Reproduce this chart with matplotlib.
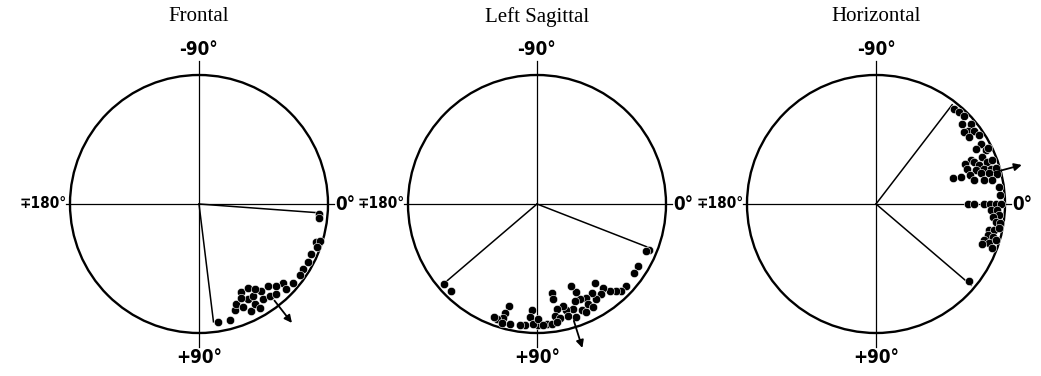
import numpy as np
import matplotlib.pyplot as plt
from matplotlib.patches import Circle

# angles in degrees (+90 points down), radius as fraction of the rim
frontal_angle = [80.8, 75.1, 71.5, 69.5, 64.4, 59.7, 67.0, 62.8, 63.9, 61.0,
                 59.6, 54.4, 56.2, 59.7, 50.0, 52.5, 49.5, 43.2, 44.4, 40.0,
                 32.3, 24.3, 18.0, 17.0, 20.0, 28.0, 35.0, 5.0, 6.5, 66.0,
                 57.0, 47.0]
frontal_r = [0.925, 0.93, 0.87, 0.83, 0.76, 0.75, 0.87, 0.83, 0.92, 0.89,
             0.83, 0.83, 0.89, 0.93, 0.83, 0.90, 0.92, 0.89, 0.94, 0.95,
             0.95, 0.95, 0.95, 0.98, 0.97, 0.96, 0.96, 0.93, 0.94, 0.80,
             0.79, 0.87]
frontal_lines = [4.2, 83.0]
frontal_line_r = [0.95, 0.92]
frontal_arrow = 52.0

sagittal_angle = [139.2, 134.8, 22.1, 23.5, 31.7, 35.3, 42.7, 46.0, 47.7, 50.2,
                  51.8, 53.8, 54.6, 58.1, 58.5, 62.2, 63.1, 65.9, 66.0, 67.2,
                  68.7, 71.1, 74.4, 74.5, 75.6, 79.5, 80.9, 78.6, 80.7, 80.4,
                  70.8, 67.1, 65.6, 61.6, 85.4, 89.4, 92.9, 93.5, 91.7, 95.7,
                  89.4, 87.1, 83.1, 80.6, 105.6, 106.3, 106.4, 109.2, 110.9, 106.5,
                  102.6, 97.9]
sagittal_r = [0.95, 0.95, 0.94, 0.92, 0.92, 0.92, 0.94, 0.94, 0.91, 0.88,
              0.83, 0.76, 0.86, 0.87, 0.81, 0.82, 0.87, 0.81, 0.75, 0.69,
              0.81, 0.86, 0.85, 0.90, 0.82, 0.83, 0.88, 0.90, 0.70, 0.75,
              0.93, 0.89, 0.92, 0.91, 0.93, 0.94, 0.82, 0.88, 0.93, 0.94,
              0.89, 0.94, 0.94, 0.93, 0.82, 0.88, 0.92, 0.94, 0.94, 0.96,
              0.95, 0.95]
sagittal_lines = [21.3, 139.5]
sagittal_line_r = [0.94, 0.96]
sagittal_arrow = 72.5

horizontal_angle = [-50.5, -47.7, -45.0, -42.7, -40.1, -38.7, -36.8, -39.1, -35.6, -33.6,
                    -29.9, -28.9, -26.0, -26.4, -23.8, -24.7, -24.2, -23.1, -20.6, -20.6,
                    -20.6, -21.1, -18.7, -18.1, -17.1, -16.5, -16.2, -15.1, -14.1, -17.1,
                    -17.7, -18.4, -13.6, -12.4, -11.6, -7.9, -4.2, 0.0, 0.0, 0.0,
                    0.0, 0.0, 0.0, 3.0, 2.8, 5.1, 6.2, 8.3, 8.9, 12.8,
                    12.3, 15.4, 15.6, 18.3, 19.0, 16.6, 20.7, 20.9, 11.1, 39.6]
horizontal_r = [0.95, 0.96, 0.97, 0.91, 0.96, 0.91, 0.95, 0.88, 0.89, 0.96,
                0.94, 0.885, 0.95, 0.97, 0.90, 0.81, 0.76, 0.83, 0.85, 0.92,
                0.96, 0.76, 0.82, 0.88, 0.93, 0.97, 0.85, 0.91, 0.97, 0.76,
                0.69, 0.63, 0.78, 0.86, 0.92, 0.96, 0.96, 0.71, 0.76, 0.84,
                0.88, 0.93, 0.97, 0.89, 0.94, 0.96, 0.91, 0.94, 0.97, 0.90,
                0.94, 0.90, 0.94, 0.88, 0.93, 0.97, 0.96, 0.88, 0.97, 0.94]
horizontal_lines = [-52.5, 40.5]
horizontal_line_r = [0.97, 0.97]
horizontal_arrow = -15.0

titles = ['Frontal', 'Left Sagittal', 'Horizontal']
centers_px = [199, 537, 876]
R_PX = 129.0
CY_PX = 204.0
W_PX, H_PX = 1041, 376

label_font = ['DejaVu Sans', 'Liberation Sans']


def xy(angle, r):
    a = np.radians(np.asarray(angle, dtype=float))
    r = np.asarray(r, dtype=float)
    return r * np.cos(a), -r * np.sin(a)


def draw_panel(fig, cx, title, ang, rad, lines, line_r, arrow_ang):
    half = 169.0
    ax = fig.add_axes([(cx - half) / W_PX, 0, 2 * half / W_PX, 1])
    ax.set_xlim(-half / R_PX, half / R_PX)
    ax.set_ylim(-(H_PX - CY_PX) / R_PX, CY_PX / R_PX)
    ax.axis('off')
    ax.patch.set_alpha(0)

    ax.add_patch(Circle((0, 0), 1.0, fill=False, lw=1.7, color='black'))
    ax.plot([-1.03, 1.05], [0, 0], color='black', lw=0.9)
    ax.plot([0, 0], [-1.11, 1.11], color='black', lw=0.9)

    for a, r in zip(lines, line_r):
        x, y = xy([0, a], [0, r])
        ax.plot(x, y, color='black', lw=1.1)

    px, py = xy(ang, rad)
    ax.plot(px, py, 'o', ms=6.0, mfc='black', mec='white', mew=0.4)

    x0, y0 = xy(arrow_ang, 0.95)
    x1, y1 = xy(arrow_ang, 1.17)
    ax.annotate('', xy=(x1, y1), xytext=(x0, y0),
                arrowprops=dict(arrowstyle='-|>', color='black', lw=1.3,
                                mutation_scale=11, shrinkA=0, shrinkB=0))

    kw = dict(family=label_font, weight='bold', fontsize=13.5,
              stretch='condensed', color='black')
    ax.text(0, 1.20, '-90°', ha='center', va='center', **kw)
    ax.text(0, -1.19, '+90°', ha='center', va='center', **kw)
    ax.text(1.06, 0, '0°', ha='left', va='center', **kw)
    ax.text(-1.025, 0, '∓180°', ha='right', va='center',
            **dict(kw, fontsize=11))
    ax.text(0, 1.45, title, ha='center', va='center',
            family=['Liberation Serif', 'DejaVu Serif'], fontsize=15)


fig = plt.figure(figsize=(W_PX / 100, H_PX / 100), dpi=100)
draw_panel(fig, centers_px[0], titles[0], frontal_angle, frontal_r,
           frontal_lines, frontal_line_r, frontal_arrow)
draw_panel(fig, centers_px[1], titles[1], sagittal_angle, sagittal_r,
           sagittal_lines, sagittal_line_r, sagittal_arrow)
draw_panel(fig, centers_px[2], titles[2], horizontal_angle, horizontal_r,
           horizontal_lines, horizontal_line_r, horizontal_arrow)
fig.savefig('out.png', dpi=100, facecolor='white')
